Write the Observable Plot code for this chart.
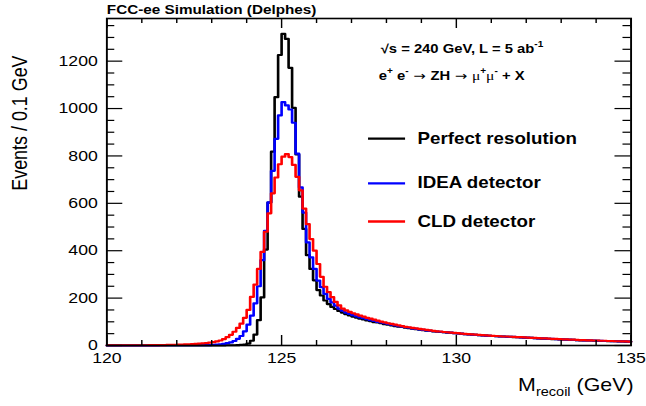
<!DOCTYPE html>
<html><head><meta charset="utf-8">
<script src="https://cdn.jsdelivr.net/npm/d3@7"></script>
<script src="https://cdn.jsdelivr.net/npm/@observablehq/plot@0.6"></script>
<style>
html,body{margin:0;padding:0;background:#fff;}
#chart svg{display:block;}
</style></head><body><div id="chart"></div>
<script>
// ---- data: histogram of recoil mass, 0.1 GeV bins from 120 to 135 GeV ----
const binStart = 120;
const binWidth = 0.1;
const perfect = [
  0,0,0,0,0,0,0,0,0,0, 0,0,0,0,0,0,0,0,0,0, 0,0,0,0,0,0,0,0,0,0,
  0,0,0,0,1,1,1,2,3,4,
  8,20,46,107,203,405,603,818,1048,1226,
  1315,1294,1172,1003,806,628,492,381,323,275,
  234,211,190,175,163,154,146,139,132,127,
  122,118,113,110,106,103,99,97,94,90,
  88,85,82,80,78,75,73,71,69,67,
  65,63,62,60,58,57,56,54,53,52,
  51,49,48,47,46,45,44,43,42,41,
  40,39,38,38,37,36,35,35,34,33,
  32,32,31,30,29,29,28,27,27,26,
  25,25,24,24,23,22,22,21,21,20,
  20,19,19,18,18,18,17,17,16,16
];
const idea = [
  0,0,0,0,0,0,0,0,0,0, 0,0,0,0,0,1,1,1,1,1,
  1,1,1,1,1,1,1,1,2,2,
  3,4,5,7,10,13,19,28,40,60,
  88,126,178,250,360,484,604,737,872,971,
  1027,1013,996,940,810,667,561,435,372,323,
  274,246,218,197,182,168,156,147,139,133,
  128,123,119,115,111,107,104,100,97,94,
  91,88,85,82,80,77,75,72,70,68,
  66,64,62,61,59,58,56,55,54,52,
  51,50,48,47,46,45,44,43,42,41,
  40,39,38,38,37,36,36,35,34,33,
  33,32,31,30,30,29,28,28,27,26,
  26,25,25,24,23,23,22,22,21,21,
  20,20,19,19,18,18,17,17,17,16
];
const cld = [
  1,1,1,1,1,1,1,1,1,1,
  1,1,2,2,2,2,2,3,3,3,
  4,4,5,5,6,7,8,9,10,12,
  14,17,21,27,35,45,58,74,92,117,
  150,205,257,323,395,480,558,642,709,765,
  797,808,795,762,712,655,578,512,449,400,
  344,290,248,225,204,184,169,156,148,142,
  136,131,126,122,117,113,109,105,101,98,
  94,91,88,85,82,79,77,74,72,70,
  68,66,64,62,60,59,57,56,54,53,
  52,50,49,48,47,46,45,44,43,42,
  41,40,39,38,38,37,36,35,35,34,
  33,32,32,31,30,30,29,28,28,27,
  26,26,25,25,24,23,23,22,22,21,
  21,20,20,19,19,18,18,17,17,16
];
const seriesNames = ["Perfect resolution", "IDEA detector", "CLD detector"];
const seriesValues = [perfect, idea, cld];
const seriesColors = ["#000000", "#0000ff", "#ff0000"];
const xTicksMajor = [120, 125, 130, 135];
const xTicksMinor = [121, 122, 123, 124, 126, 127, 128, 129, 131, 132, 133, 134];
const yTicksMajor = [0, 200, 400, 600, 800, 1000, 1200];
const yTicksMinor = [50, 100, 150, 250, 300, 350, 450, 500, 550, 650, 700, 750, 850, 900, 950, 1050, 1100, 1150, 1250, 1300, 1350];
const titleText = "FCC-ee Simulation (Delphes)";
const yTitle = "Events / 0.1 GeV";
const xTitleParts = [["M", ""], ["recoil", "sub"], [" (GeV)", ""]];
const note1Parts = [["√s = 240 GeV, L = 5 ab", ""], ["-1", "sup"]];
const note2Parts = [["e", ""], ["+", "sup"], [" e", ""], ["-", "sup"], [" → ", "arrow"], ["ZH", ""], [" → ", "arrow"], ["μ", "greek"], ["+", "sup"], ["μ", "greek"], ["-", "sup"], [" + X", ""]];

// ---- build step outlines ----
function steps(values, name) {
  const pts = values.map((v, i) => ({x: binStart + i * binWidth, y: v, series: name}));
  pts.push({x: binStart + values.length * binWidth, y: values[values.length - 1], series: name});
  return pts;
}
const join = parts => parts.map(p => p[0]).join("");

// ---- layout (logical units; the svg is stretched horizontally like the original raster) ----
const W = 541, H = 406, mL = 89, mR = 13, mT = 18, mB = 61;
const plotW = W - mL - mR, plotH = H - mT - mB;
const FONT = "'Liberation Sans', Arial, Helvetica, sans-serif";
const legendYs = [873, 684, 523];

const marks = [];
seriesNames.forEach((name, k) => {
  marks.push(Plot.line(steps(seriesValues[k], name), {
    x: "x", y: "y", stroke: seriesColors[k], strokeWidth: 2.2, curve: "step-after"
  }));
});
marks.push(
  Plot.frame({stroke: "black", strokeWidth: 1.6}),
  Plot.tickX(xTicksMajor, {x: d => d, insetTop: plotH - 10, stroke: "black", strokeWidth: 1.2}),
  Plot.tickX(xTicksMajor, {x: d => d, insetBottom: plotH - 10, stroke: "black", strokeWidth: 1.2}),
  Plot.tickX(xTicksMinor, {x: d => d, insetTop: plotH - 5, stroke: "black", strokeWidth: 1.2}),
  Plot.tickX(xTicksMinor, {x: d => d, insetBottom: plotH - 5, stroke: "black", strokeWidth: 1.2}),
  Plot.tickY(yTicksMajor, {y: d => d, insetRight: plotW - 13.4, stroke: "black", strokeWidth: 1.2}),
  Plot.tickY(yTicksMajor, {y: d => d, insetLeft: plotW - 13.4, stroke: "black", strokeWidth: 1.2}),
  Plot.tickY(yTicksMinor, {y: d => d, insetRight: plotW - 6.7, stroke: "black", strokeWidth: 1.2}),
  Plot.tickY(yTicksMinor, {y: d => d, insetLeft: plotW - 6.7, stroke: "black", strokeWidth: 1.2}),
  Plot.axisX({ticks: xTicksMajor, tickSize: 0, tickPadding: 6.5, fontSize: 14.8, tickFormat: "d", label: null}),
  Plot.axisY({ticks: yTicksMajor, tickSize: 0, tickPadding: 7.6, fontSize: 14.8, tickFormat: "d", label: null}),
  // titles
  Plot.text([titleText], {x: 120, y: 1399, text: d => d, textAnchor: "start", lineAnchor: "bottom", fontWeight: "bold", fontSize: 12.8, fill: "black"}),
  Plot.text([yTitle], {x: 117.53, y: 1224, text: d => d, rotate: -90, textAnchor: "end", lineAnchor: "middle", fontSize: 17.9, fill: "black"}),
  Plot.text([join(xTitleParts)], {x: 135.07, y: -190, text: d => d, textAnchor: "end", lineAnchor: "bottom", fontSize: 17.9, fill: "black"}),
  // annotations
  Plot.text([join(note1Parts)], {x: 127.835, y: 1236, text: d => d, textAnchor: "start", lineAnchor: "bottom", fontWeight: "bold", fontSize: 12.4, fill: "black"}),
  Plot.text([join(note2Parts)], {x: 127.78, y: 1122, text: d => d, textAnchor: "start", lineAnchor: "bottom", fontWeight: "bold", fontSize: 12.4, fill: "black"}),
  // legend
  Plot.ruleY(seriesNames, {y: (d, i) => legendYs[i], x1: 127.49, x2: 128.55, stroke: (d, i) => seriesColors[i], strokeWidth: 2.4}),
  Plot.text(seriesNames, {x: 128.89, y: (d, i) => legendYs[i], text: d => d, textAnchor: "start", lineAnchor: "middle", fontWeight: "bold", fontSize: 15.7, fill: "black"})
);

const chart = Plot.plot({
  width: W, height: H,
  marginLeft: mL, marginRight: mR, marginTop: mT, marginBottom: mB,
  style: {fontFamily: FONT, background: "white", color: "black", overflow: "visible"},
  x: {domain: [120, 135]},
  y: {domain: [0, 1380]},
  color: {type: "identity"},
  marks
});

// rich text (sub/superscripts, symbol glyphs)
function applyRich(svg, parts, fs) {
  const joined = join(parts);
  svg.querySelectorAll("text").forEach(el => {
    if (el.textContent !== joined) return;
    while (el.firstChild) el.removeChild(el.firstChild);
    let shift = 0;
    for (const [t, kind] of parts) {
      const ts = document.createElementNS("http://www.w3.org/2000/svg", "tspan");
      const target = kind === "sup" ? -0.42 * fs : kind === "sub" ? 0.3 * fs : 0;
      const dy = target - shift; shift = target;
      if (dy) ts.setAttribute("dy", dy.toFixed(2));
      if (kind === "sup" || kind === "sub") ts.setAttribute("font-size", (0.68 * fs).toFixed(2));
      if (kind === "arrow") {
        ts.setAttribute("font-weight", "normal");
        ts.setAttribute("font-family", "'DejaVu Sans', sans-serif");
        ts.setAttribute("font-size", (1.0 * fs).toFixed(2));
      }
      if (kind === "greek") {
        ts.setAttribute("font-weight", "normal");
        ts.setAttribute("font-family", "'Liberation Serif', 'DejaVu Serif', serif");
        ts.setAttribute("font-size", (1.05 * fs).toFixed(2));
      }
      ts.textContent = t;
      el.appendChild(ts);
    }
  });
}
applyRich(chart, xTitleParts, 17.9);
applyRich(chart, note1Parts, 12.4);
applyRich(chart, note2Parts, 12.4);

// stretch horizontally like the original 800x600 raster squeezed into 646x406
chart.setAttribute("preserveAspectRatio", "none");
chart.setAttribute("width", 646);
chart.setAttribute("height", 406);
chart.style.width = "646px";
chart.style.height = "406px";
chart.style.maxWidth = "none";
document.getElementById("chart").appendChild(chart);
</script></body></html>
